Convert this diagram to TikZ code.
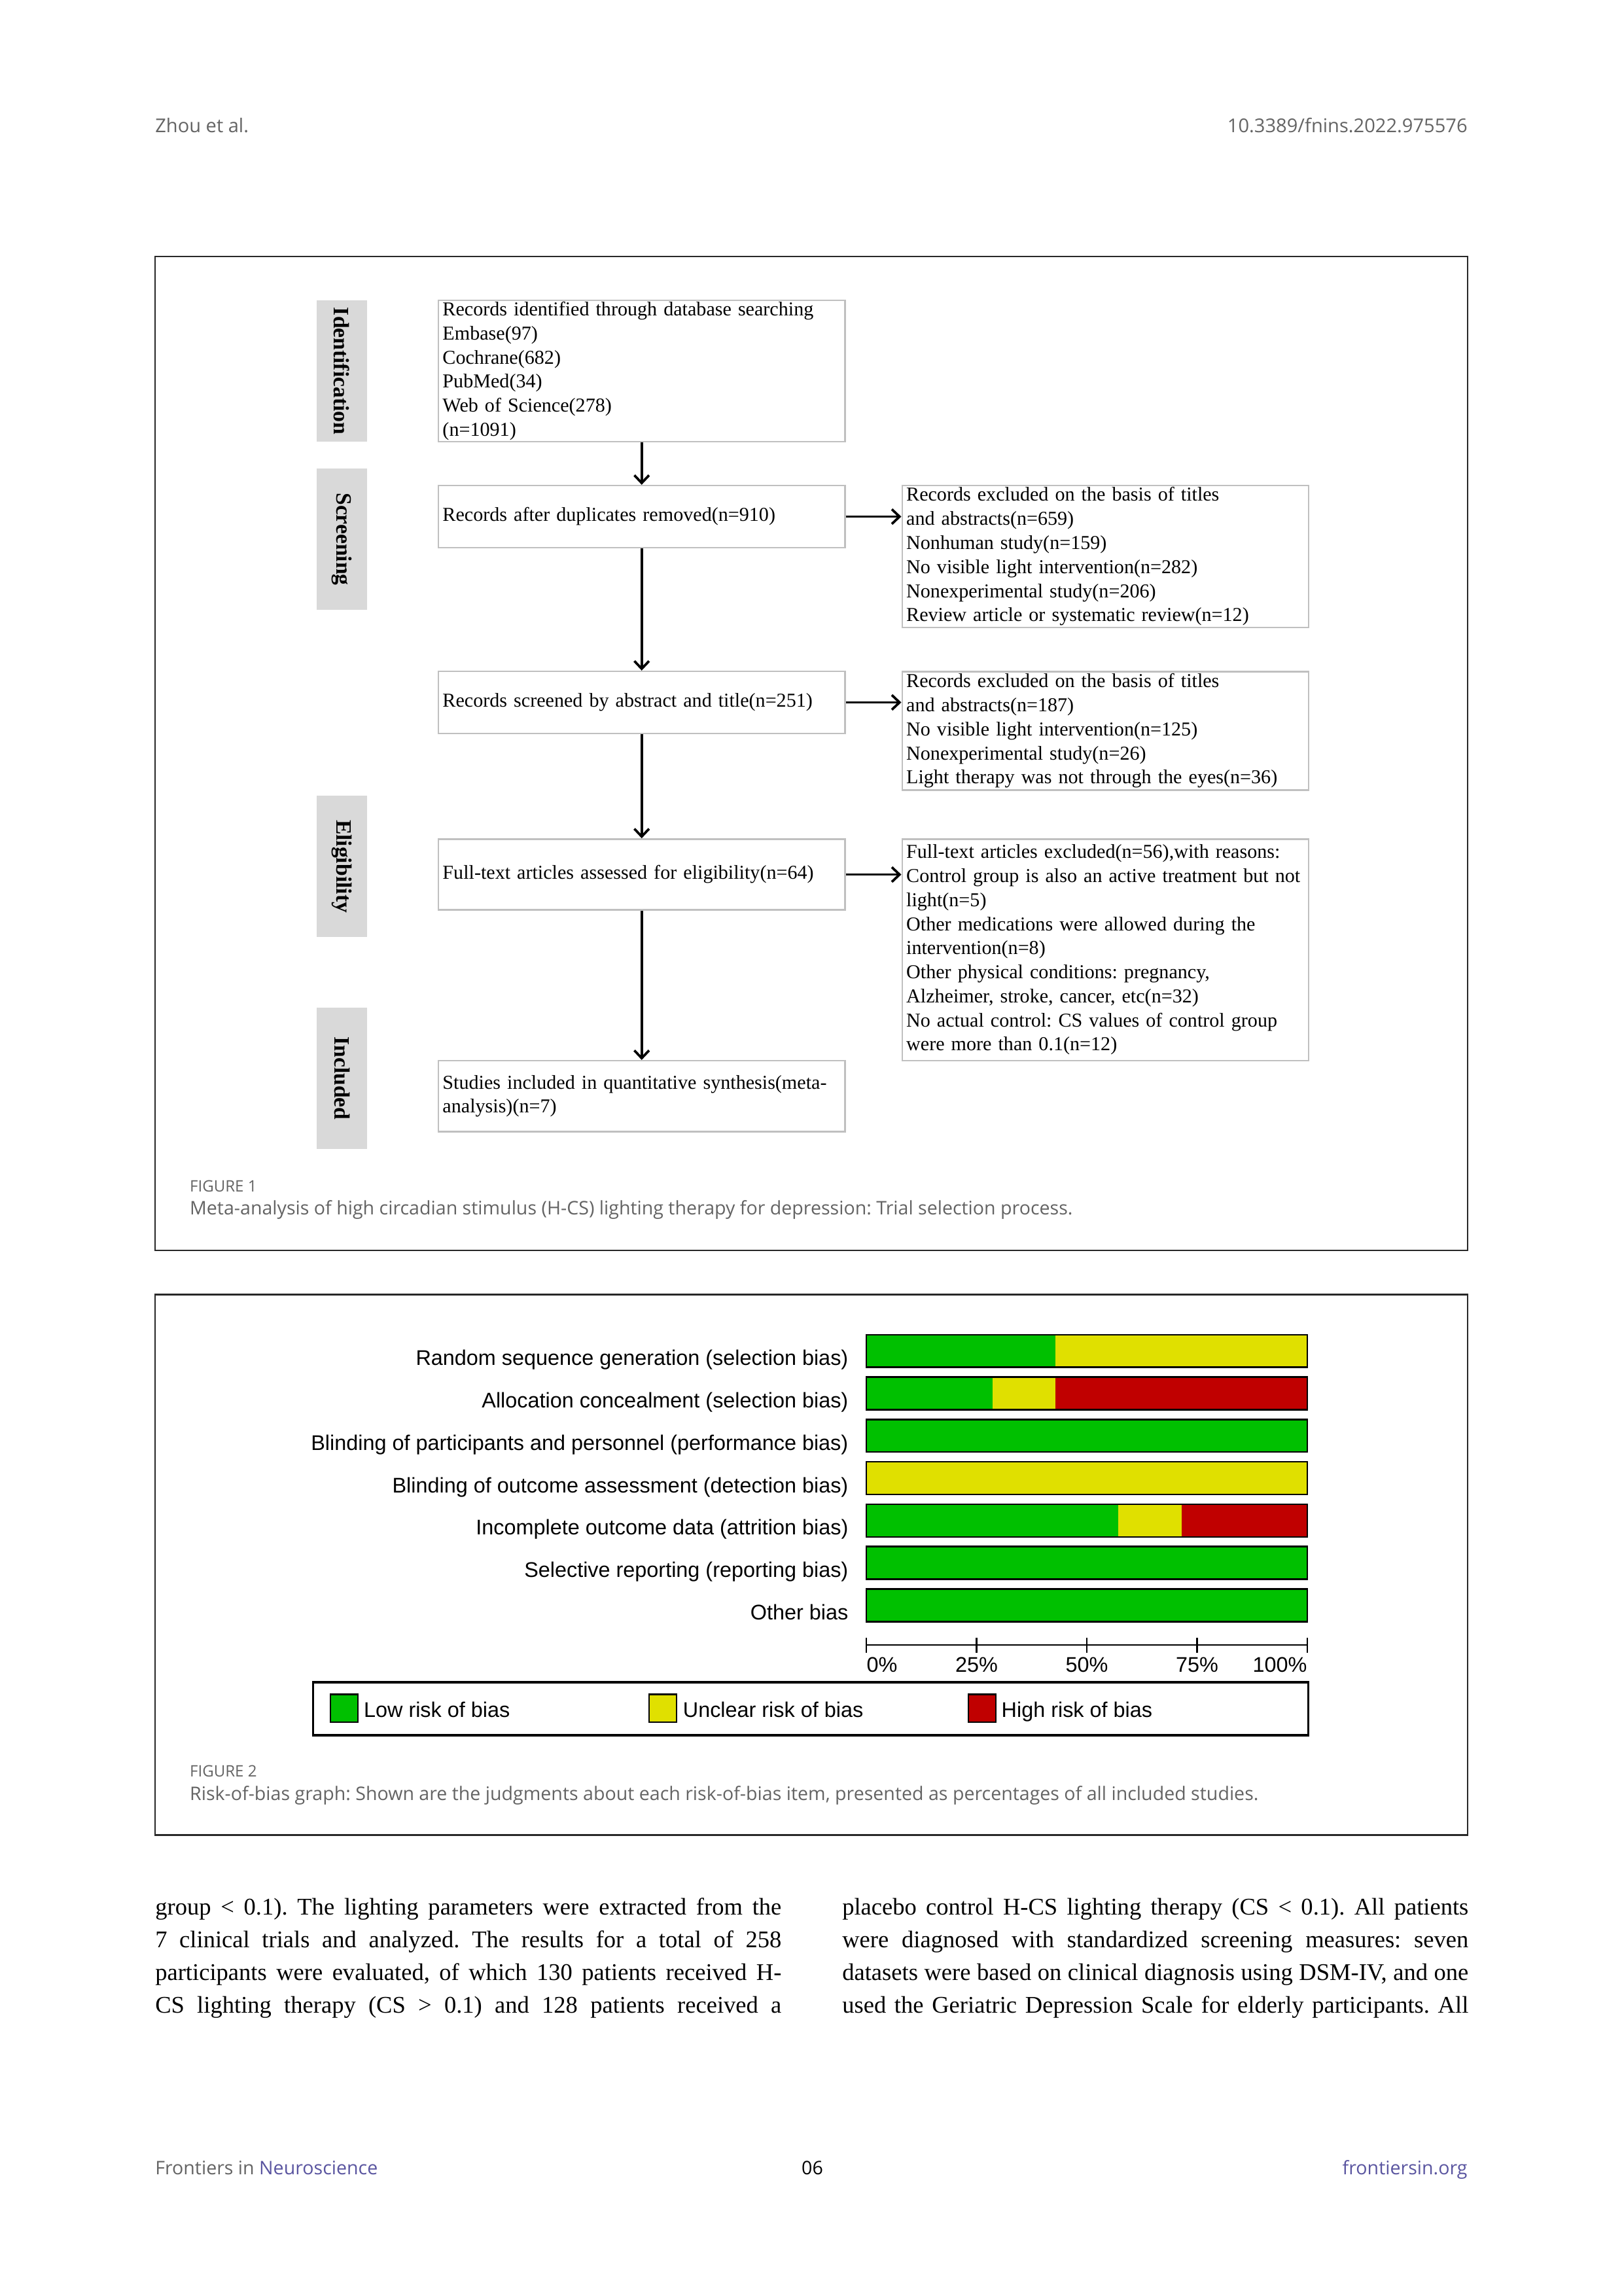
\documentclass[tikz,border=0pt]{standalone}
\usepackage{fontspec}
\setmainfont{Liberation Serif}
\newfontfamily\opensans{Open Sans}
\newfontfamily\arialf{Liberation Sans}
\usetikzlibrary{arrows.meta}
\definecolor{rgreen}{RGB}{0,192,0}
\definecolor{ryellow}{RGB}{224,224,0}
\definecolor{rred}{RGB}{192,0,0}
\definecolor{labgray}{RGB}{217,217,217}
\definecolor{boxgray}{RGB}{192,192,192}
\definecolor{framedark}{RGB}{40,40,40}
\definecolor{capgray}{RGB}{100,100,100}
\definecolor{fpurple}{RGB}{90,85,160}
\def\U{0.018936cm}
\frenchspacing
\tikzset{
  fbox/.style={draw=boxgray, line width=0.6pt, fill=white, inner xsep=0.054cm, inner ysep=0pt,
    text width=5.15cm, align=left, minimum width=5.2586cm,
    font=\fontsize{7.25}{8.86}\selectfont},
  sidelab/.style={fill=labgray, rotate=-90, inner sep=0pt, minimum height={34.4*\U},
    minimum width={96.5*\U}, font=\bfseries\fontsize{8.1}{9}\selectfont},
  arr/.style={line width=0.9pt, -{Straight Barb[length=1.0mm, width=1.9mm, line width=0.9pt]}},
  framestyle/.style={draw=framedark, line width=0.5pt},
  biaslab/.style={inner sep=0pt, font=\arialf\fontsize{7.8}{9}\selectfont},
  hdr/.style={inner sep=0pt, text=capgray, font=\opensans\fontsize{7}{8}\selectfont},
  ftr/.style={inner sep=0pt, text=capgray, font=\opensans\fontsize{6.88}{8}\selectfont},
  capfig/.style={inner sep=0pt, text=capgray, font=\opensans\fontsize{5.8}{7}\selectfont},
  captext/.style={inner sep=0pt, text=capgray, font=\opensans\fontsize{6.88}{8}\selectfont},
  bodytext/.style={inner sep=0pt, font=\fontsize{8.8}{12.35}\selectfont},
}
\begin{document}
\begin{tikzpicture}[x=\U, y=-\U]
\useasboundingbox (0,0) rectangle (1109,1568.4);
\fill[white] (0,0) rectangle (1109,1568.4);

% header
\node[hdr, anchor=base west] (hl) at (105.7,90.6) {Zhou et al.};
\node[hdr, anchor=base east] (hr) at (1002.7,90.6) {10.3389/fnins.2022.975576};

% ---------------- Figure 1 frame
\draw[framestyle] (105.8,175.3) rectangle (1002.7,854.1);

% side labels
\node[sidelab] (sid) at (233.6,253.5) {Identification};
\node[sidelab] (scr) at (233.6,368.3) {Screening};
\node[sidelab] (eli) at (233.6,591.8) {Eligibility};
\node[sidelab] (inc) at (233.6,736.6) {Included};

% main boxes
\node[fbox, minimum height={96.7*\U}] (b1) at (438.35,253.45)
  {Records identified through database searching\\Embase(97)\\Cochrane(682)\\PubMed(34)\\Web of Science(278)\\(n=1091)};
\node[fbox, minimum height={42.4*\U}] (b2) at (438.35,352.9)
  {Records after duplicates removed(n=910)};
\node[fbox, minimum height={42.4*\U}] (b3) at (438.35,479.8)
  {Records screened by abstract and title(n=251)};
\node[fbox, minimum height={48.4*\U}] (b4) at (438.35,597.4)
  {Full-text articles assessed for eligibility(n=64)};
\node[fbox, minimum height={48.4*\U}] (b5) at (438.35,748.8)
  {Studies included in quantitative synthesis(meta-\\analysis)(n=7)};

% right boxes
\node[fbox, minimum height={96.9*\U}] (r1) at (755.1,380.15)
  {Records excluded on the basis of titles\\and abstracts(n=659)\\Nonhuman study(n=159)\\No visible light intervention(n=282)\\Nonexperimental study(n=206)\\Review article or systematic review(n=12)};
\node[fbox, minimum height={81*\U}] (r2) at (755.1,499.2)
  {Records excluded on the basis of titles\\and abstracts(n=187)\\No visible light intervention(n=125)\\Nonexperimental study(n=26)\\Light therapy was not through the eyes(n=36)};
\node[fbox, minimum height={151.3*\U}] (r3) at (755.1,648.8)
  {Full-text articles excluded(n=56),with reasons:\\Control group is also an active treatment but not\\light(n=5)\\Other medications were allowed during the\\intervention(n=8)\\Other physical conditions: pregnancy,\\Alzheimer, stroke, cancer, etc(n=32)\\No actual control: CS values of control group\\were more than 0.1(n=12)};

% arrows
\draw[arr] (b1.south) -- (b2.north);
\draw[arr] (b2.south) -- (b3.north);
\draw[arr] (b3.south) -- (b4.north);
\draw[arr] (b4.south) -- (b5.north);
\draw[arr] (b2.east) -- (b2.east -| r1.west);
\draw[arr] (b3.east) -- (b3.east -| r2.west);
\draw[arr] (b4.east) -- (b4.east -| r3.west);

% caption 1
\node[capfig, anchor=base west] (f1l) at (129.3,814) {FIGURE 1};
\node[captext, anchor=base west] (f1t) at (129.3,830) {Meta-analysis of high circadian stimulus (H-CS) lighting therapy for depression: Trial selection process.};

% ---------------- Figure 2 frame
\draw[framestyle] (105.8,884.3) rectangle (1002.7,1253.5);

\foreach \i/\g/\yl/\txt in {
  0/3/4/{Random sequence generation (selection bias)},
  1/2/1/{Allocation concealment (selection bias)},
  2/7/0/{Blinding of participants and personnel (performance bias)},
  3/0/7/{Blinding of outcome assessment (detection bias)},
  4/4/1/{Incomplete outcome data (attrition bias)},
  5/7/0/{Selective reporting (reporting bias)},
  6/7/0/{Other bias}}{
  \pgfmathsetmacro\tp{911.7+\i*28.95}
  \pgfmathsetmacro\bt{\tp+22.3}
  \pgfmathsetmacro\xg{591.7+\g*301.4/7}
  \pgfmathsetmacro\xy{591.7+(\g+\yl)*301.4/7}
  \fill[rgreen] (591.7,\tp) rectangle (\xg,\bt);
  \fill[ryellow] (\xg,\tp) rectangle (\xy,\bt);
  \fill[rred] (\xy,\tp) rectangle (893.1,\bt);
  \draw[black, line width=0.6pt] (591.7,\tp) rectangle (893.1,\bt);
  \node[biaslab, anchor=base east] (lab\i) at (579.8,\tp+21) {\txt};
}

% axis
\draw[line width=0.6pt] (591.7,1123.6) -- (893.1,1123.6);
\foreach \k in {0,...,4}{
  \draw[line width=0.6pt] (591.7+\k*75.35,1118.7) -- (591.7+\k*75.35,1128.9);
}
\node[biaslab, anchor=base west] (t0) at (591.7,1142) {0\%};
\node[biaslab, anchor=base] (t25) at (667.05,1142) {25\%};
\node[biaslab, anchor=base] (t50) at (742.4,1142) {50\%};
\node[biaslab, anchor=base] (t75) at (817.75,1142) {75\%};
\node[biaslab, anchor=base east] (t100) at (893.1,1142) {100\%};

% legend
\draw[line width=0.8pt] (214,1149.2) rectangle (893.6,1185.3);
\draw[fill=rgreen, line width=0.5pt] (225.9,1157.4) rectangle (244.6,1176.4);
\draw[fill=ryellow, line width=0.5pt] (443.5,1157.4) rectangle (462.2,1176.4);
\draw[fill=rred, line width=0.5pt] (661.5,1157.4) rectangle (680.2,1176.4);
\node[biaslab, anchor=base west] (lg1) at (248.2,1173) {Low risk of bias};
\node[biaslab, anchor=base west] (lg2) at (466.2,1173) {Unclear risk of bias};
\node[biaslab, anchor=base west] (lg3) at (683.8,1173) {High risk of bias};

% caption 2
\node[capfig, anchor=base west] (f2l) at (129.3,1213.5) {FIGURE 2};
\node[captext, anchor=base west] (f2t) at (129.3,1229.8) {Risk-of-bias graph: Shown are the judgments about each risk-of-bias item, presented as percentages of all included studies.};

% body text
\node[bodytext, anchor=base west] (lc1) at (105.7,1308) {\makebox[8.1cm][s]{group < 0.1). The lighting parameters were extracted from the}};
\node[bodytext, anchor=base west] (lc2) at (105.7,1330.4) {\makebox[8.1cm][s]{7 clinical trials and analyzed. The results for a total of 258}};
\node[bodytext, anchor=base west] (lc3) at (105.7,1352.7) {\makebox[8.1cm][s]{participants were evaluated, of which 130 patients received H-}};
\node[bodytext, anchor=base west] (lc4) at (105.7,1375.1) {\makebox[8.1cm][s]{CS lighting therapy (CS > 0.1) and 128 patients received a}};
\node[bodytext, anchor=base west] (rc1) at (575,1308) {\makebox[8.1cm][s]{placebo control H-CS lighting therapy (CS < 0.1). All patients}};
\node[bodytext, anchor=base west] (rc2) at (575,1330.4) {\makebox[8.1cm][s]{were diagnosed with standardized screening measures: seven}};
\node[bodytext, anchor=base west] (rc3) at (575,1352.7) {\makebox[8.1cm][s]{datasets were based on clinical diagnosis using DSM-IV, and one}};
\node[bodytext, anchor=base west] (rc4) at (575,1375.1) {\makebox[8.1cm][s]{used the Geriatric Depression Scale for elderly participants. All}};

% footer
\node[ftr, anchor=base west] (fl) at (105.7,1485.5) {Frontiers in \textcolor{fpurple}{Neuroscience}};
\node[ftr, anchor=base, text=black] (fc) at (554.9,1485.5) {06};
\node[ftr, anchor=base east, text=fpurple] (fr) at (1002.7,1485.5) {frontiersin.org};
\end{tikzpicture}
\end{document}
